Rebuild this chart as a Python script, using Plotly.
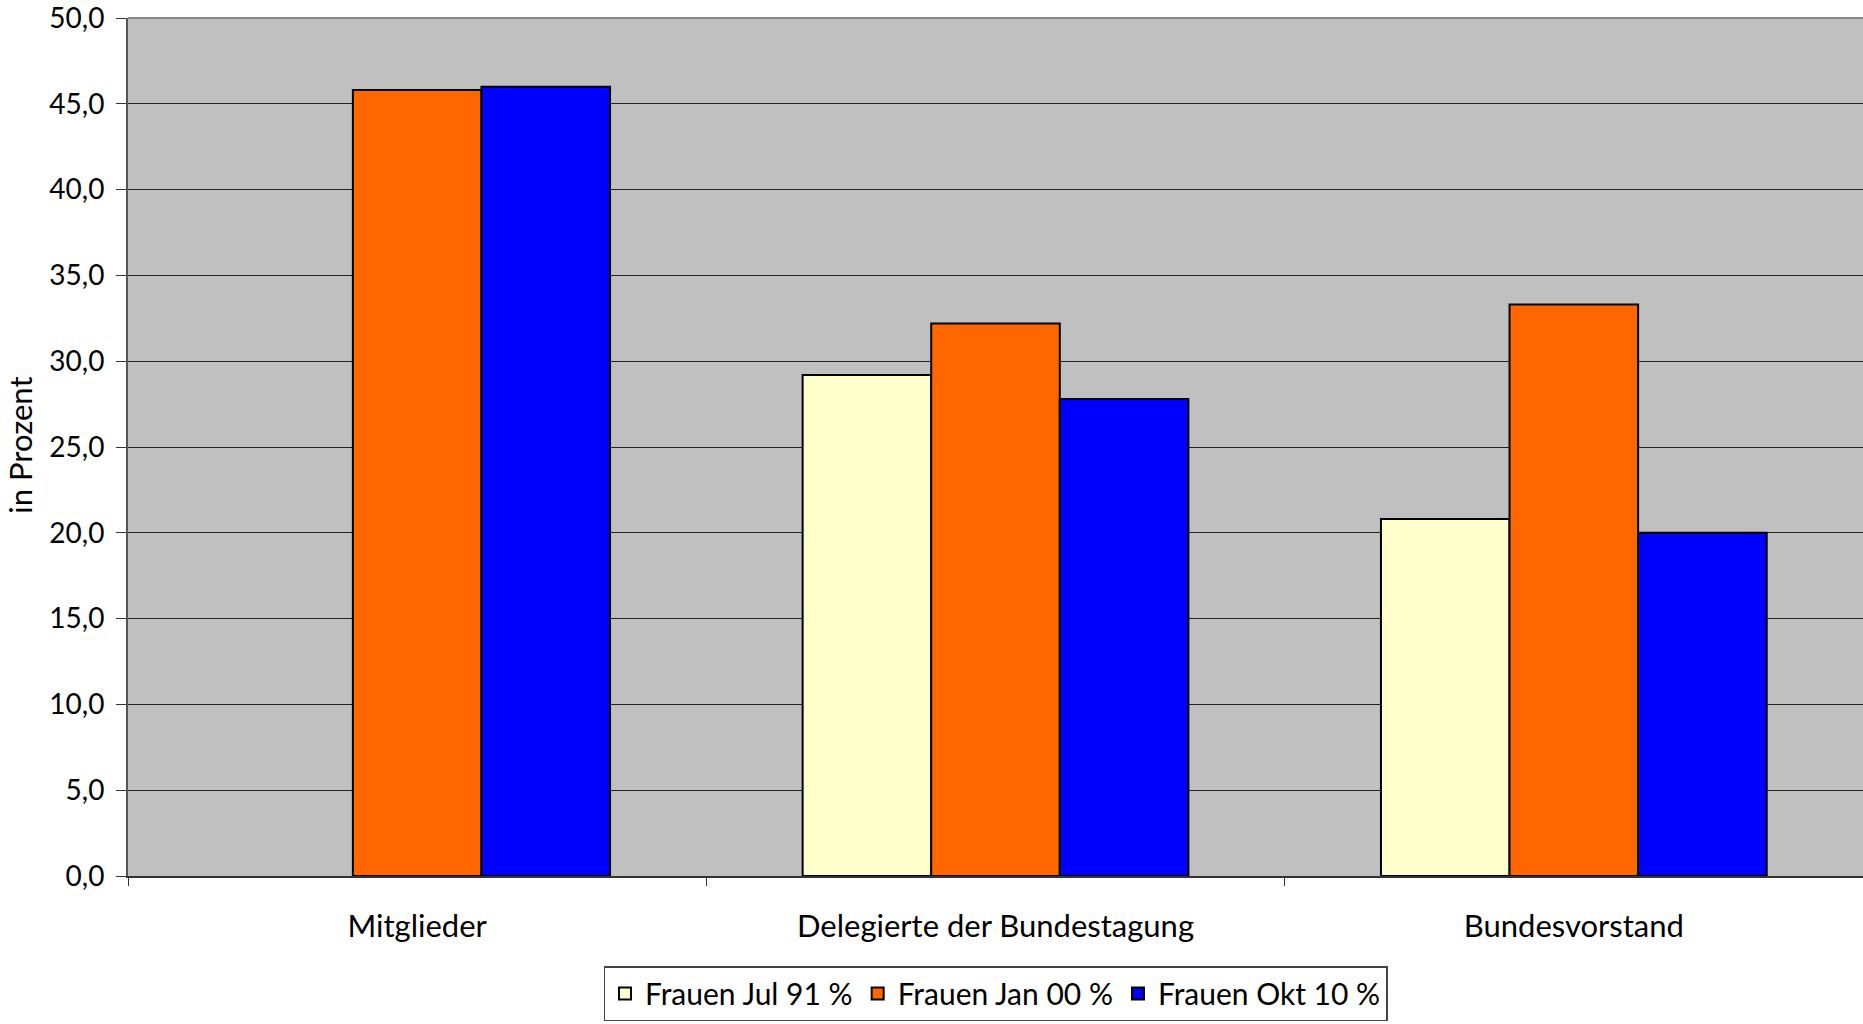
import plotly.graph_objects as go

categories = ["Mitglieder", "Delegierte der Bundestagung", "Bundesvorstand"]
series_names = ["Frauen Jul 91 %", "Frauen Jan 00 %", "Frauen Okt 10 %"]
jul_91 = [None, 29.2, 20.8]
jan_00 = [45.8, 32.2, 33.3]
okt_10 = [46.0, 27.8, 20.0]
y_ticks = [0, 5, 10, 15, 20, 25, 30, 35, 40, 45, 50]

colors = ["#FFFFCC", "#FF6600", "#0000FF"]
font_family = "Lato, 'Open Sans', sans-serif"

fig = go.Figure()
for name, values, color in zip(series_names, [jul_91, jan_00, okt_10], colors):
    fig.add_trace(go.Bar(
        x=categories,
        y=values,
        name=name,
        marker=dict(color=color, line=dict(color="black", width=2)),
    ))

fig.update_layout(
    width=1863,
    height=1024,
    barmode="group",
    bargap=0.333,
    bargroupgap=0,
    separators=",.",
    hovermode=False,
    paper_bgcolor="white",
    plot_bgcolor="#C0C0C0",
    font=dict(family=font_family, size=28, color="black"),
    margin=dict(l=128, r=0, t=18, b=148, autoexpand=False),
    showlegend=True,
    legend=dict(
        orientation="h",
        x=0.5,
        xanchor="center",
        y=-0.169,
        yanchor="bottom",
        bgcolor="white",
        bordercolor="#444444",
        borderwidth=1.5,
        font=dict(size=30),
        itemwidth=30,
        tracegroupgap=0,
    ),
)

fig.update_xaxes(
    type="category",
    automargin=False,
    tickson="boundaries",
    ticks="outside",
    ticklen=8,
    tickcolor="#333333",
    ticklabelstandoff=22,
    showline=True,
    linecolor="#333333",
    linewidth=2,
    showgrid=False,
    tickfont=dict(size=31),
)

fig.update_yaxes(
    range=[0, 50],
    automargin=False,
    tickvals=y_ticks,
    tickformat=".1f",
    ticklabeloverflow="allow",
    ticklabelstandoff=6,
    ticks="outside",
    ticklen=10,
    tickcolor="#333333",
    showline=True,
    linecolor="#555555",
    linewidth=2,
    showgrid=True,
    gridcolor="#222222",
    gridwidth=1,
    zeroline=False,
    tickfont=dict(size=28),
)

# y axis title as an annotation so it can sit close to the page edge
fig.add_annotation(
    text="in Prozent",
    xref="paper", yref="paper",
    x=-128 / 1735, y=0.5016,
    xanchor="left", yanchor="middle",
    textangle=-90,
    showarrow=False,
    borderpad=0,
    font=dict(size=31),
)

# thin grey frame along the top of the plot area
fig.add_shape(type="line", xref="paper", yref="paper", x0=0, x1=1, y0=1, y1=1,
              line=dict(color="#888888", width=2))

# drop the default 8px body margin so the figure fills the window exactly
fig.write_html(
    "out.html",
    config={"displayModeBar": False},
    post_script="document.body.style.margin = '0';",
)
